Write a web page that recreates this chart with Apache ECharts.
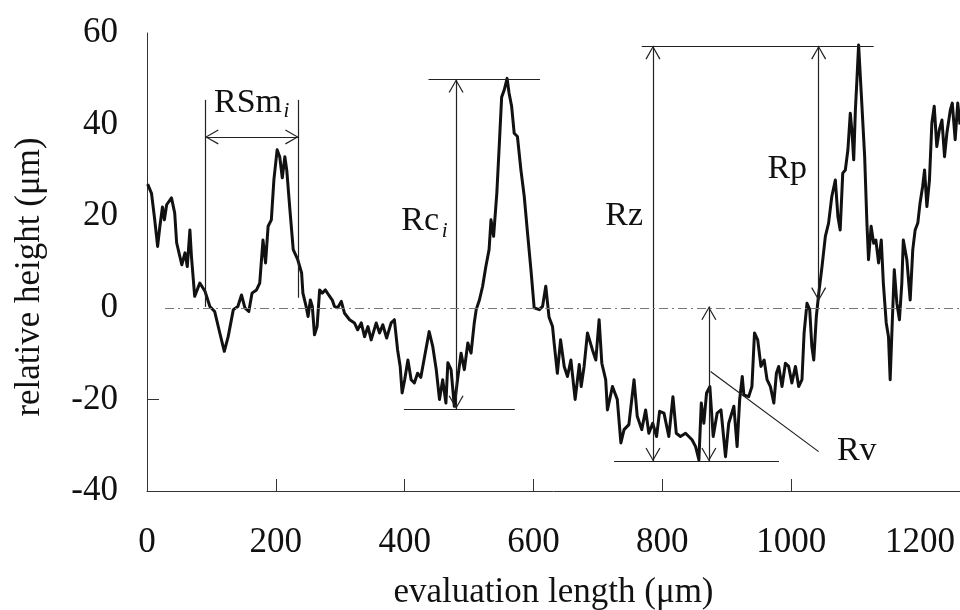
<!DOCTYPE html>
<html>
<head>
<meta charset="utf-8">
<script src="https://cdn.jsdelivr.net/npm/echarts@6/dist/echarts.min.js"></script>
<style>
html,body{margin:0;padding:0;background:#fff;}
#chart{width:960px;height:610px;}
</style>
</head>
<body>
<div id="chart"></div>
<script>
// ---- data ----
const profileX = [1,7,12,16.5,20,24,27,30.5,38,43,46,54,59,62.5,66.6,69,74,82,90,97.6,105,113,120,126,134,141,146.7,152,158,163,170,175,180,184,188,193,197,202,206,210,214,217,221.5,227,234,240,242,247,250,253.6,256.6,260,264,268,272,277,282,287.6,291,296,301.6,306.7,314.5,322,327,332.6,337.7,343,348,355.8,361,366,372,379,384,389,393,396,400,405,410,415,420,425,431,438,443.5,449,454,459,464,467,472,477,482,487.5,492.6,498,503,508,511,516,521,526,531,534,538,543,547,550.5,554.6,559,562,566,570,575,580.5,585.6,590.7,596,601,609,614,619,624,629.5,632,637,642,647.6,652.7,658,664.6,671,674,678.5,683.7,691.5,696.7,701.8,706,712,714.7,722.5,730,735.6,740.5,748,756,761,768,774,779,785,791,795.7,802.5,810,816.4,821.6,828,836,841,846,851.6,856.7,860.4,864.4,868.6,873.7,878.9,885,891,898,903,911,916,920,924,926.5,934,939,943,948,953,958,962.5,967.7,973,977,980.6,985.7,991,996,1001,1006.6,1011.6,1016.7,1020,1024.5,1028.7,1032,1035,1039,1042.6,1047.8,1053,1058,1063,1068.5,1072.5,1076,1080,1084,1088,1091.7,1094.5,1097,1099.6,1102,1104.6,1109,1114,1117.5,1120,1124,1128,1131.4,1135.6,1139.8,1143,1147.5,1151,1153.6,1157,1160,1164,1168,1171.7,1174,1179.5,1184.7,1188.7,1192.4,1196.5,1200,1204,1207,1210.6,1214.6,1218.3,1222,1226,1230,1234,1238,1241.6,1247,1250,1254.5,1258.5,1262];
const profileY = [27,25,19.2,13.4,17.8,22,19.2,22.5,24,20.7,14.2,9.4,12,9,17,11.2,2.5,5.4,3.6,0.3,-0.8,-5.5,-9.5,-6.3,-0.4,0.3,2.8,0,-0.8,3.2,3.9,5.4,14.8,9.8,17.8,19.2,28,34.5,33,28.4,33,30,22,12.7,10.5,7.6,3.2,0.3,-1.9,1.7,0.3,-5.9,-4.1,3.9,3.2,3.9,2.8,1.7,0.3,0,1.4,-1.2,-2.6,-3.3,-4.8,-3.3,-6.3,-4.1,-7,-3.3,-5.5,-3.7,-6.6,-3.3,-2.6,-9.2,-12.8,-18.6,-15.7,-11.4,-15.7,-16.4,-14.3,-15.2,-10.6,-5.2,-8.4,-13.5,-20,-15.7,-20.8,-12,-13.5,-21.5,-15.7,-9.9,-13.5,-7.7,-9.9,-3.3,-0.4,1.7,4.7,9,12.7,19.2,15.6,25,36,46,47.6,50.1,46.9,44,38.1,37.4,30,24.3,16.3,8.3,0,-0.4,0.3,4.7,-2,-4.1,-7.7,-14.3,-7,-12.8,-15,-11.4,-20,-12.4,-17.2,-12.8,-5.5,-9.2,-11.4,-2.6,-12.1,-15.7,-22.3,-17.2,-20,-29.5,-26.6,-25.5,-15.7,-23.7,-26.6,-22.3,-27.4,-25.2,-28.1,-22.6,-23,-28.1,-19.4,-27.4,-28.1,-27.4,-28.1,-28.8,-30.3,-33.2,-20.8,-25.2,-18.6,-17.2,-28.1,-23,-22.3,-32.5,-25.2,-21.5,-30.3,-20,-15,-19,-19.4,-17.2,-5.5,-7,-12.8,-11.4,-15.7,-17.2,-20.8,-14.3,-12.8,-17.2,-12.1,-12.8,-16.4,-12.8,-17.2,-15.7,-5.5,1,-0.4,-8.4,-11.4,-1.9,3,9,15.6,18.5,24.3,27.9,19.9,17,29.4,30.1,34.5,42.5,38.1,32.3,43.2,49.8,57.4,46.1,33,18.5,10.5,17.8,14.1,14.8,9.8,14.8,5.4,-3.3,-6.3,-15.7,-2.6,8.3,1,-2.6,5.4,14.8,10.5,1.7,12.7,17,18.5,22.9,26.5,30.1,22.1,27.9,40.3,44,35.2,38.9,41,33,38.1,43.2,44.7,36.7,44.7,40];

const xTickValues = [0, 200, 400, 600, 800, 1000, 1200];
const yTickValues = [-40, -20, 0, 20, 40, 60];

// plain annotation segments [x1, y1, x2, y2]
const plainSegments = [
  [90, 45.4, 90, 0.2],
  [235.5, 45.4, 235.5, 2.2],
  [437, 49.9, 610, 49.9],
  [398.7, -22.1, 571, -22.1],
  [768, 57.2, 1128, 57.2],
  [725, -33.5, 981, -33.5],
  [874.8, -13.9, 1042.6, -31.4]
];
// double-headed arrows [x1, y1, x2, y2]
const arrowSegments = [
  [90, 37.3, 235.5, 37.3],
  [479.8, 49.9, 479.8, -22.1],
  [785.4, 57.2, 785.4, -33.5],
  [1042.6, 57.2, 1042.6, 1.5],
  [872.2, 0.3, 872.2, -33.5]
];
const meanLine = [28, 0, 1262, 0];

const labelTexts = ['RSm', 'Rc', 'Rz', 'Rp', 'Rv'];
const labelX = [156.8, 424, 740.7, 993.8, 1101.7];
const labelY = [44.65, 18.9, 20.1, 30.2, -31.3];
const subTexts = ['i', 'i'];
const subX = [216.6, 462];
const subY = [42.8, 16.6];

// ---- chart ----
const FONT = "'Liberation Serif', 'Times New Roman', serif";
const ARROW = 'path://M0,13 L7.5,0 L15,13 L13.9,13.6 L7.5,2.2 L1.1,13.6 Z';
const AS = [15, 13.6];

const markLineData = [];
plainSegments.forEach(s => {
  markLineData.push([
    {coord: [s[0], s[1]], symbol: 'none'},
    {coord: [s[2], s[3]], symbol: 'none'}
  ]);
});
arrowSegments.forEach(s => {
  markLineData.push([
    {coord: [s[0], s[1]], symbol: ARROW, symbolSize: AS, symbolOffset: [0, AS[1] / 2]},
    {coord: [s[2], s[3]], symbol: ARROW, symbolSize: AS, symbolOffset: [0, AS[1] / 2]}
  ]);
});
markLineData.push([
  {coord: [meanLine[0], meanLine[1]], symbol: 'none', lineStyle: {type: [9, 4, 2, 4], color: '#777', width: 1}},
  {coord: [meanLine[2], meanLine[3]], symbol: 'none'}
]);

const markPointData = [];
labelTexts.forEach((t, i) => {
  markPointData.push({
    coord: [labelX[i], labelY[i]],
    label: {formatter: t, fontSize: 34}
  });
});
subTexts.forEach((t, i) => {
  markPointData.push({
    coord: [subX[i], subY[i]],
    label: {formatter: t, fontSize: 21, fontStyle: 'italic'}
  });
});

const chart = echarts.init(document.getElementById('chart'), null, {renderer: 'canvas'});
chart.setOption({
  animation: false,
  backgroundColor: '#fff',
  grid: {left: 147, right: 0, top: 33, bottom: 119, containLabel: false, outerBoundsMode: 'none'},
  xAxis: {
    type: 'value', min: 0, max: 1262, interval: 200,
    name: 'evaluation length (\u03bcm)', nameLocation: 'middle', nameGap: 84,
    nameTextStyle: {fontFamily: FONT, fontSize: 35, color: '#111'},
    axisLine: {show: true, onZero: false, lineStyle: {color: '#333', width: 1}},
    axisTick: {show: true, inside: true, length: 12, customValues: [200, 400, 600, 800, 1000], lineStyle: {color: '#333'}},
    axisLabel: {fontFamily: FONT, fontSize: 35, color: '#111', margin: 34, customValues: xTickValues,
      formatter: v => String(v)},
    splitLine: {show: false}
  },
  yAxis: {
    type: 'value', min: -40, max: 60, interval: 20,
    name: 'relative height (\u03bcm)', nameLocation: 'middle', nameGap: 100,
    nameTextStyle: {fontFamily: FONT, fontSize: 35, color: '#111', padding: [0, 30, 0, 0]},
    axisLine: {show: true, onZero: false, lineStyle: {color: '#333', width: 1}},
    axisTick: {show: true, inside: true, length: 12, customValues: [-20], lineStyle: {color: '#333'}},
    axisLabel: {fontFamily: FONT, fontSize: 35, color: '#111', margin: 29, customValues: yTickValues,
      formatter: v => String(v)},
    splitLine: {show: false}
  },
  series: [{
    type: 'line',
    data: profileX.map((x, i) => [x, profileY[i]]),
    showSymbol: false,
    symbol: 'none',
    lineStyle: {color: '#111', width: 3, join: 'round'},
    silent: true,
    z: 3,
    markLine: {
      silent: true,
      symbol: 'none',
      label: {show: false},
      lineStyle: {color: '#222', width: 1.2, type: 'solid'},
      emphasis: {disabled: true},
      data: markLineData
    },
    markPoint: {
      silent: true,
      symbol: 'circle',
      symbolSize: 1,
      itemStyle: {color: 'rgba(0,0,0,0)'},
      label: {show: true, position: 'inside', color: '#111', fontFamily: FONT},
      emphasis: {disabled: true},
      data: markPointData
    }
  }]
});
</script>
</body>
</html>
